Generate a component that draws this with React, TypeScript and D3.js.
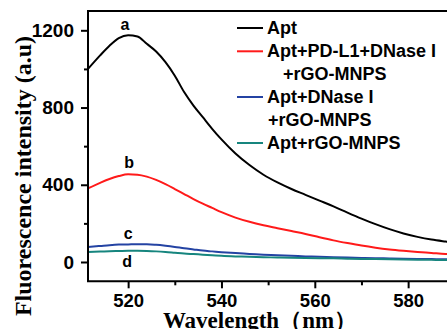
import { useEffect, useRef } from "react";
import * as d3 from "d3";

// wavelength (nm) sampled for every series
const wavelengths = [
  511.4, 514, 516, 518, 520, 522, 524, 526, 528, 530, 532, 534, 536, 538, 540,
  543, 546, 549, 552, 555, 558, 561, 564, 567, 570, 573, 576, 579, 582, 585,
  588, 590,
];

const aptValues = [
  1000, 1070, 1120, 1160, 1175, 1168, 1130, 1090, 1035, 965, 880, 810, 750,
  690, 635, 562, 502, 452, 412, 378, 348, 318, 288, 256, 225, 196, 170, 148,
  130, 116, 106, 100,
];
const pdl1Values = [
  381, 410, 430, 445, 454, 452, 442, 425, 403, 378, 352, 326, 302, 280, 258,
  230, 208, 190, 175, 160, 145, 128, 112, 98, 85, 74, 65, 58, 52, 47, 42, 40,
];
const dnaseValues = [
  78, 83, 87, 90, 91, 92, 92, 89, 84, 78, 71, 65, 59, 55, 51, 46, 42, 38, 35,
  32, 29, 27, 25, 23, 21, 20, 18, 17, 16, 15, 14, 14,
];
const rgoValues = [
  52, 54, 56, 57, 58, 58, 57, 55, 52, 48, 44, 41, 38, 35, 32, 29, 27, 25, 23,
  22, 21, 20, 19, 17, 16, 15, 14, 13, 12, 11, 10, 10,
];

const seriesNames = [
  ["Apt"],
  ["Apt+PD-L1+DNase I", "+rGO-MNPS"],
  ["Apt+DNase I", "+rGO-MNPS"],
  ["Apt+rGO-MNPS"],
];
const seriesColors = ["#000000", "#ff1a1a", "#2443a3", "#16857e"];
const seriesValues = [aptValues, pdl1Values, dnaseValues, rgoValues];

const curveLabels = ["a", "b", "c", "d"];
const curveLabelX = [519.3, 520.2, 520, 519.8];
const curveLabelY = [1203, 486, 119, -26];

const xTicks = [520, 540, 560, 580];
const xMinorTicks = [530, 550, 570];
const yTicks = [0, 400, 800, 1200];
const yMinorTicks = [200, 600, 1000];

const W = 447;
const H = 329;

export default function App() {
  const svgRef = useRef<SVGSVGElement>(null);

  useEffect(() => {
    if (!svgRef.current) return;
    const svg = d3.select(svgRef.current);
    svg.selectAll("*").remove();

    const left = 88;
    const top = 11;
    const bottom = 281.3;

    const x = d3.scaleLinear().domain([511.4, 590]).range([left, 454.8]);
    const y = d3.scaleLinear().domain([-100, 1300]).range([bottom, top]);

    const sans = "'Liberation Sans', Arial, sans-serif";
    const serif = "'Liberation Serif', 'Times New Roman', serif";

    svg
      .append("clipPath")
      .attr("id", "plot-clip")
      .append("rect")
      .attr("x", left)
      .attr("y", top)
      .attr("width", 454.8 - left)
      .attr("height", bottom - top);

    // curves
    const line = d3
      .line<number>()
      .x((_, i) => x(wavelengths[i]))
      .y((d) => y(d))
      .curve(d3.curveMonotoneX);

    svg
      .append("g")
      .attr("clip-path", "url(#plot-clip)")
      .selectAll("path")
      .data(seriesValues)
      .join("path")
      .attr("d", (d) => line(d))
      .attr("fill", "none")
      .attr("stroke", (_, i) => seriesColors[i])
      .attr("stroke-width", 2);

    // frame
    svg
      .append("path")
      .attr("d", `M${W + 10},${top}H${left}V${bottom}H${W + 10}`)
      .attr("fill", "none")
      .attr("stroke", "#000")
      .attr("stroke-width", 2);

    // x axis
    const xAxis = svg
      .append("g")
      .attr("transform", `translate(0,${bottom})`)
      .call(
        d3
          .axisBottom(x)
          .tickValues(xTicks)
          .tickSize(7)
          .tickPadding(6)
          .tickFormat(d3.format("d"))
      );
    xAxis.select(".domain").remove();
    xAxis.selectAll("line").attr("stroke-width", 2);
    xAxis
      .selectAll("text")
      .attr("font-family", sans)
      .attr("font-weight", "bold")
      .attr("font-size", 18.5)
      .attr("fill", "#000");

    const xMinor = svg
      .append("g")
      .attr("transform", `translate(0,${bottom})`)
      .call(d3.axisBottom(x).tickValues(xMinorTicks).tickSize(4).tickFormat(() => ""));
    xMinor.select(".domain").remove();
    xMinor.selectAll("line").attr("stroke-width", 2);

    // y axis
    const yAxis = svg
      .append("g")
      .attr("transform", `translate(${left},0)`)
      .call(
        d3
          .axisLeft(y)
          .tickValues(yTicks)
          .tickSize(7)
          .tickPadding(7)
          .tickFormat(d3.format("d"))
      );
    yAxis.select(".domain").remove();
    yAxis.selectAll("line").attr("stroke-width", 2);
    yAxis
      .selectAll("text")
      .attr("font-family", sans)
      .attr("font-weight", "bold")
      .attr("font-size", 19)
      .attr("fill", "#000");

    const yMinor = svg
      .append("g")
      .attr("transform", `translate(${left},0)`)
      .call(d3.axisLeft(y).tickValues(yMinorTicks).tickSize(4).tickFormat(() => ""));
    yMinor.select(".domain").remove();
    yMinor.selectAll("line").attr("stroke-width", 2);

    // axis titles
    svg
      .append("text")
      .attr("x", 260)
      .attr("y", 328)
      .attr("text-anchor", "middle")
      .attr("font-family", serif)
      .attr("font-weight", "bold")
      .attr("font-size", 23)
      .text("Wavelength（nm）");

    svg
      .append("text")
      .attr("transform", `translate(31,176) rotate(-90)`)
      .attr("text-anchor", "middle")
      .attr("font-family", serif)
      .attr("font-weight", "bold")
      .attr("font-size", 24)
      .text("Fluorescence intensity (a.u)");

    // curve letters
    svg
      .append("g")
      .selectAll("text")
      .data(curveLabels)
      .join("text")
      .attr("x", (_, i) => x(curveLabelX[i]))
      .attr("y", (_, i) => y(curveLabelY[i]))
      .attr("text-anchor", "middle")
      .attr("font-family", sans)
      .attr("font-weight", "bold")
      .attr("font-size", 16)
      .text((d) => d);

    // legend
    const legend = svg.append("g").attr("transform", "translate(237,0)");
    const rowBase = [34, 57.3, 103, 149];
    seriesNames.forEach((lines, i) => {
      legend
        .append("line")
        .attr("x1", 0)
        .attr("x2", 26)
        .attr("y1", rowBase[i] - 6)
        .attr("y2", rowBase[i] - 6)
        .attr("stroke", seriesColors[i])
        .attr("stroke-width", 2);
      lines.forEach((t, j) => {
        legend
          .append("text")
          .attr("x", j === 0 ? 30 : i === 1 ? 46 : 31)
          .attr("y", rowBase[i] + j * 23)
          .attr("font-family", sans)
          .attr("font-weight", "bold")
          .attr("font-size", 18)
          .text(t);
      });
    });
  }, []);

  return (
    <svg
      ref={svgRef}
      width={W}
      height={H}
      style={{ position: "absolute", left: 0, top: 0, background: "#fff" }}
    />
  );
}
